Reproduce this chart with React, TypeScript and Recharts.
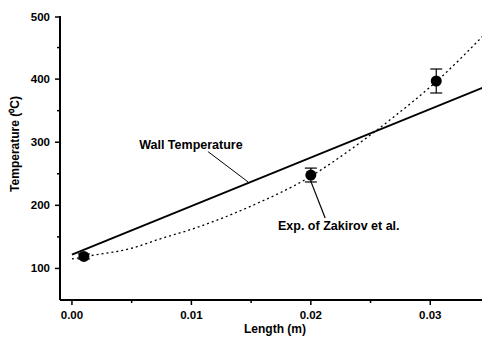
import React from 'react';
import {
  ComposedChart, Line, Scatter, XAxis, YAxis, ErrorBar, ReferenceLine, ReferenceDot, Label,
} from 'recharts';

const xTicks = [0, 0.005, 0.01, 0.015, 0.02, 0.025, 0.03];
const xMajor = [0, 0.01, 0.02, 0.03];
const yTicks = [100, 150, 200, 250, 300, 350, 400, 450, 500];
const yMajor = [100, 200, 300, 400, 500];

const wallX = [0, 0.035];
const wallT = [122, 391];

const curveX = [0, 0.0015, 0.005, 0.0074, 0.01, 0.0149, 0.02, 0.0233, 0.0268, 0.0305, 0.035];
const curveT = [115, 120, 132, 147, 162, 198, 246, 288, 338, 396, 480];

const expX = [0.001, 0.02, 0.0305];
const expT = [119, 248, 397];
const expErr = [4, 11, 19];

const wallData = wallX.map((x, i) => ({ x, y: wallT[i] }));
const curveData = curveX.map((x, i) => ({ x, y: curveT[i] }));
const expData = expX.map((x, i) => ({ x, y: expT[i], err: expErr[i] }));

const FONT = 'Liberation Sans, Arial, sans-serif';

const XTick = (props: any) => {
  const { x, y, payload } = props;
  const major = xMajor.some((v) => Math.abs(v - payload.value) < 1e-9);
  return (
    <g>
      <line x1={x} x2={x} y1={y} y2={y + (major ? 5 : 3)} stroke="#000" strokeWidth={1.5} />
      {major && (
        <text x={x} y={y + 19} textAnchor="middle" fontFamily={FONT} fontWeight="bold" fontSize={11.5} fill="#000">
          {payload.value.toFixed(2)}
        </text>
      )}
    </g>
  );
};

const YTick = (props: any) => {
  const { x, y, payload } = props;
  const major = yMajor.includes(payload.value);
  return (
    <g>
      <line x1={x} x2={x - (major ? 5 : 3)} y1={y} y2={y} stroke="#000" strokeWidth={1.5} />
      {major && (
        <text x={x - 10} y={y + 4} textAnchor="end" fontFamily={FONT} fontWeight="bold" fontSize={11.5} fill="#000">
          {payload.value}
        </text>
      )}
    </g>
  );
};

const YLabel = (props: any) => {
  const vb = props.viewBox || {};
  const cx = 7;
  const cy = (vb.y ?? 8) + (vb.height ?? 284) / 2 - 14;
  return (
    <text
      x={cx}
      y={cy}
      transform={`rotate(-90 ${cx} ${cy})`}
      textAnchor="middle"
      dominantBaseline="central"
      fontFamily={FONT}
      fontWeight="bold"
      fontSize={12}
      fill="#000"
    >
      Temperature (⁰C)
    </text>
  );
};

export default function App() {
  return (
    <ComposedChart width={482} height={330} margin={{ top: 8, right: 0, left: 0, bottom: 0 }}>
      <XAxis
        type="number"
        dataKey="x"
        domain={[-0.001, 0.035]}
        ticks={xTicks}
        allowDataOverflow
        tick={<XTick />}
        tickLine={false}
        tickSize={0}
        tickMargin={0}
        height={38}
        axisLine={{ stroke: '#000', strokeWidth: 2 }}
      >
        <Label value="Length (m)" position="insideBottom" offset={5} style={{ fontFamily: FONT, fontWeight: 'bold', fontSize: 12, fill: '#000' }} />
      </XAxis>
      <YAxis
        type="number"
        dataKey="y"
        domain={[50, 500]}
        ticks={yTicks}
        allowDataOverflow
        tick={<YTick />}
        tickLine={false}
        tickSize={0}
        tickMargin={0}
        width={52}
        axisLine={{ stroke: '#000', strokeWidth: 2 }}
      >
        <Label content={<YLabel />} />
      </YAxis>
      <Line data={wallData} dataKey="y" type="linear" stroke="#000" strokeWidth={2} dot={false} isAnimationActive={false} />
      <Line data={curveData} dataKey="y" type="monotone" stroke="#000" strokeWidth={1.3} strokeDasharray="2 3" dot={false} isAnimationActive={false} />
      <Scatter data={expData} dataKey="y" fill="#000" isAnimationActive={false} shape={(p: any) => <circle cx={p.cx} cy={p.cy} r={5.5} fill="#000" />}>
        <ErrorBar dataKey="err" direction="y" width={6} stroke="#000" strokeWidth={1.2} />
      </Scatter>
      <ReferenceLine segment={[{ x: 0.0114, y: 285 }, { x: 0.01475, y: 237 }]} stroke="#000" strokeWidth={1} ifOverflow="extendDomain" />
      <ReferenceLine segment={[{ x: 0.0212, y: 180 }, { x: 0.02, y: 238 }]} stroke="#000" strokeWidth={1.2} ifOverflow="extendDomain" />
      <ReferenceDot x={0.00996} y={296} r={0} fill="none" stroke="none" ifOverflow="extendDomain">
        <Label value="Wall Temperature" position="center" style={{ fontFamily: FONT, fontWeight: 'bold', fontSize: 12.5, fill: '#000' }} />
      </ReferenceDot>
      <ReferenceDot x={0.02234} y={168} r={0} fill="none" stroke="none" ifOverflow="extendDomain">
        <Label value="Exp. of Zakirov et al." position="center" style={{ fontFamily: FONT, fontWeight: 'bold', fontSize: 12.5, fill: '#000' }} />
      </ReferenceDot>
    </ComposedChart>
  );
}
